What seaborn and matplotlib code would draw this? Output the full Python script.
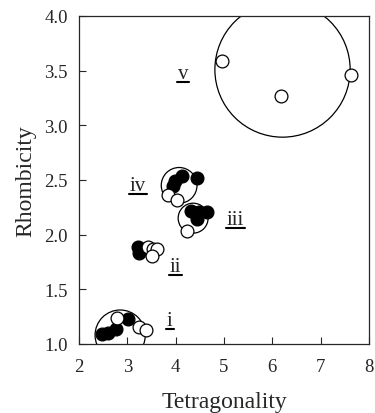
import numpy as np
import pandas as pd
import seaborn as sns
import matplotlib.pyplot as plt
from matplotlib.patches import Ellipse
from matplotlib.lines import Line2D

# Filled points (tetragonality, rhombicity)
filled_x = [2.48, 2.60, 2.77, 3.01,
            3.22, 3.24, 3.30,
            4.32, 4.44, 4.48, 4.65,
            3.95, 3.99, 4.13, 4.44]
filled_y = [1.09, 1.10, 1.14, 1.23,
            1.89, 1.83, 1.87,
            2.22, 2.14, 2.21, 2.21,
            2.44, 2.49, 2.54, 2.52]

# Open points
open_x = [2.79, 3.24, 3.39,
          3.43, 3.53, 3.61, 3.51,
          4.24,
          3.84, 4.03,
          4.96, 6.18, 7.63]
open_y = [1.24, 1.15, 1.13,
          1.89, 1.87, 1.87, 1.80,
          2.03,
          2.36, 2.32,
          3.59, 3.27, 3.46]

# Enclosing circles: centre and radius (in tetragonality units)
circle_x = [2.85, 4.07, 4.36, 6.21]
circle_y = [1.08, 2.45, 2.15, 3.51]
circle_r = [0.52, 0.37, 0.31, 1.40]

# Group labels
group_labels = ['i', 'ii', 'iii', 'iv', 'v']
label_x = [3.88, 3.99, 5.23, 3.22, 4.15]
label_y = [1.21, 1.71, 2.14, 2.45, 3.47]

df_filled = pd.DataFrame({'x': filled_x, 'y': filled_y})
df_open = pd.DataFrame({'x': open_x, 'y': open_y})

sns.set_style('ticks')
plt.rcParams['font.family'] = ['Liberation Serif', 'DejaVu Serif']

fig = plt.figure(figsize=(3.75, 4.14), dpi=100)
ax = fig.add_axes([0.211, 0.167, 0.773, 0.792])
ax.set_xlim(2, 8)
ax.set_ylim(1.0, 4.0)

# aspect correction so circles are round on screen
bbox = ax.get_position()
px_x = bbox.width * 375 / 6.0
px_y = bbox.height * 414 / 3.0
for cx, cy, r in zip(circle_x, circle_y, circle_r):
    ax.add_patch(Ellipse((cx, cy), 2 * r, 2 * r * px_x / px_y,
                         facecolor='none', edgecolor='black', lw=0.9, zorder=1))

sns.scatterplot(data=df_filled, x='x', y='y', ax=ax, s=85, color='black',
                edgecolor='black', linewidth=0.9, zorder=3)
sns.scatterplot(data=df_open, x='x', y='y', ax=ax, s=85, color='white',
                edgecolor='black', linewidth=0.9, zorder=4)

texts = []
for lab, lx, ly in zip(group_labels, label_x, label_y):
    texts.append(ax.text(lx, ly, lab, fontsize=15, ha='center', va='center'))

ax.set_xticks(np.arange(2, 9, 1))
ax.set_yticks(np.arange(1.0, 4.01, 0.5))
ax.set_yticklabels(['%.1f' % v for v in np.arange(1.0, 4.01, 0.5)])
ax.tick_params(direction='in', length=5, width=0.8, labelsize=13.5)
ax.tick_params(axis='x', pad=10)
ax.tick_params(axis='y', pad=8)
ax.set_xlabel('Tetragonality', fontsize=17, labelpad=12)
ax.set_ylabel('Rhombicity', fontsize=17, labelpad=6)
for sp in ax.spines.values():
    sp.set_linewidth(0.9)

# underline the group labels using their rendered extents
fig.canvas.draw()
renderer = fig.canvas.get_renderer()
for t in texts:
    ext = t.get_window_extent(renderer)
    yline = ext.y0 + 1
    fig.add_artist(Line2D([ext.x0 - 1, ext.x1 + 1], [yline, yline],
                          transform=None, color='black', lw=1.5))

fig.savefig('out.png', dpi=100)
